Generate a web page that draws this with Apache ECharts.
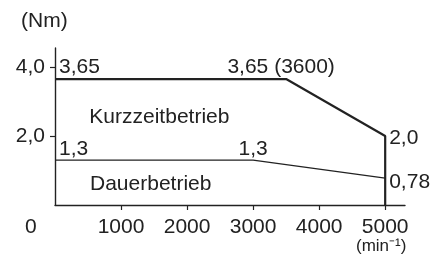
<!DOCTYPE html>
<html>
<head>
<meta charset="utf-8">
<script src="https://cdn.jsdelivr.net/npm/echarts@6/dist/echarts.min.js"></script>
<style>
  html, body { margin: 0; padding: 0; background: #fff; }
  #chart { width: 442px; height: 255px; }
</style>
</head>
<body>
<div id="chart"></div>
<script>
  // Kennlinie Drehmoment / Drehzahl
  var xTicks = [1000, 2000, 3000, 4000, 5000];
  var yTicks = [2, 4];
  var kurzzeit = [[0, 3.65], [3500, 3.65], [5000, 2.0], [5000, 0]];
  var dauer = [[0, 1.3], [3000, 1.3], [5000, 0.78]];

  // Beschriftungen: text, Ankerpunkt (Datenkoordinaten), Ausrichtung
  var notes = [
    { text: '3,65', at: [0, 3.65], dx: 4, dy: -1, align: 'left', va: 'bottom' },
    { text: '3,65 (3600)', at: [3500, 3.65], dx: -5, dy: -1, align: 'center', va: 'bottom' },
    { text: '2,0', at: [5000, 2.0], dx: 4, dy: 2, align: 'left', va: 'middle' },
    { text: '0,78', at: [5000, 0.78], dx: 4, dy: 4, align: 'left', va: 'middle' },
    { text: '1,3', at: [0, 1.3], dx: 4, dy: 0, align: 'left', va: 'bottom' },
    { text: '1,3', at: [3000, 1.3], dx: 0, dy: 0, align: 'center', va: 'bottom' },
    { text: 'Kurzzeitbetrieb', at: [520, 2.55], dx: 0, dy: 0, align: 'left', va: 'middle' },
    { text: 'Dauerbetrieb', at: [530, 0.6], dx: 0, dy: 0, align: 'left', va: 'middle' }
  ];

  var font = 'Liberation Sans, Arial, sans-serif';
  var fs = 21;
  var ink = '#222';

  var chart = echarts.init(document.getElementById('chart'));
  chart.setOption({
    animation: false,
    grid: { left: 55, right: 37, top: 48, bottom: 50 },
    xAxis: {
      type: 'value', min: 0, max: 5300,
      axisLine: { lineStyle: { color: ink, width: 1.4 } },
      axisTick: { show: true, length: 5, customValues: xTicks, lineStyle: { color: ink, width: 1.2 } },
      axisLabel: {
        customValues: xTicks, margin: 12, color: ink, fontSize: fs, fontFamily: font,
        formatter: function (v) { return String(v); }
      },
      splitLine: { show: false }
    },
    yAxis: {
      type: 'value', min: 0, max: 4.55,
      axisLine: { show: true, lineStyle: { color: ink, width: 1.4 } },
      axisTick: { show: true, length: 5, customValues: yTicks, lineStyle: { color: ink, width: 1.2 } },
      axisLabel: {
        customValues: yTicks, margin: 10, color: ink, fontSize: fs, fontFamily: font,
        formatter: function (v) { return v.toFixed(1).replace('.', ','); }
      },
      splitLine: { show: false }
    },
    series: [
      { type: 'line', data: kurzzeit, symbol: 'none', lineStyle: { color: ink, width: 2.2 } },
      { type: 'line', data: dauer, symbol: 'none', lineStyle: { color: ink, width: 1.2 } }
    ]
  });

  var g = [
    { type: 'text', left: 21, top: 11, style: { text: '(Nm)', fill: ink, font: fs + 'px ' + font } },
    { type: 'text', left: 25, top: 217, style: { text: '0', fill: ink, font: fs + 'px ' + font } },
    { type: 'text', left: 356, top: 238, style: { text: '(min⁻¹)', fill: ink, font: '17px ' + font } }
  ];
  notes.forEach(function (n) {
    var p = chart.convertToPixel({ gridIndex: 0 }, n.at);
    g.push({
      type: 'text', x: p[0] + n.dx, y: p[1] + n.dy,
      style: { text: n.text, fill: ink, font: fs + 'px ' + font, align: n.align, verticalAlign: n.va }
    });
  });
  chart.setOption({ graphic: g });
</script>
</body>
</html>
